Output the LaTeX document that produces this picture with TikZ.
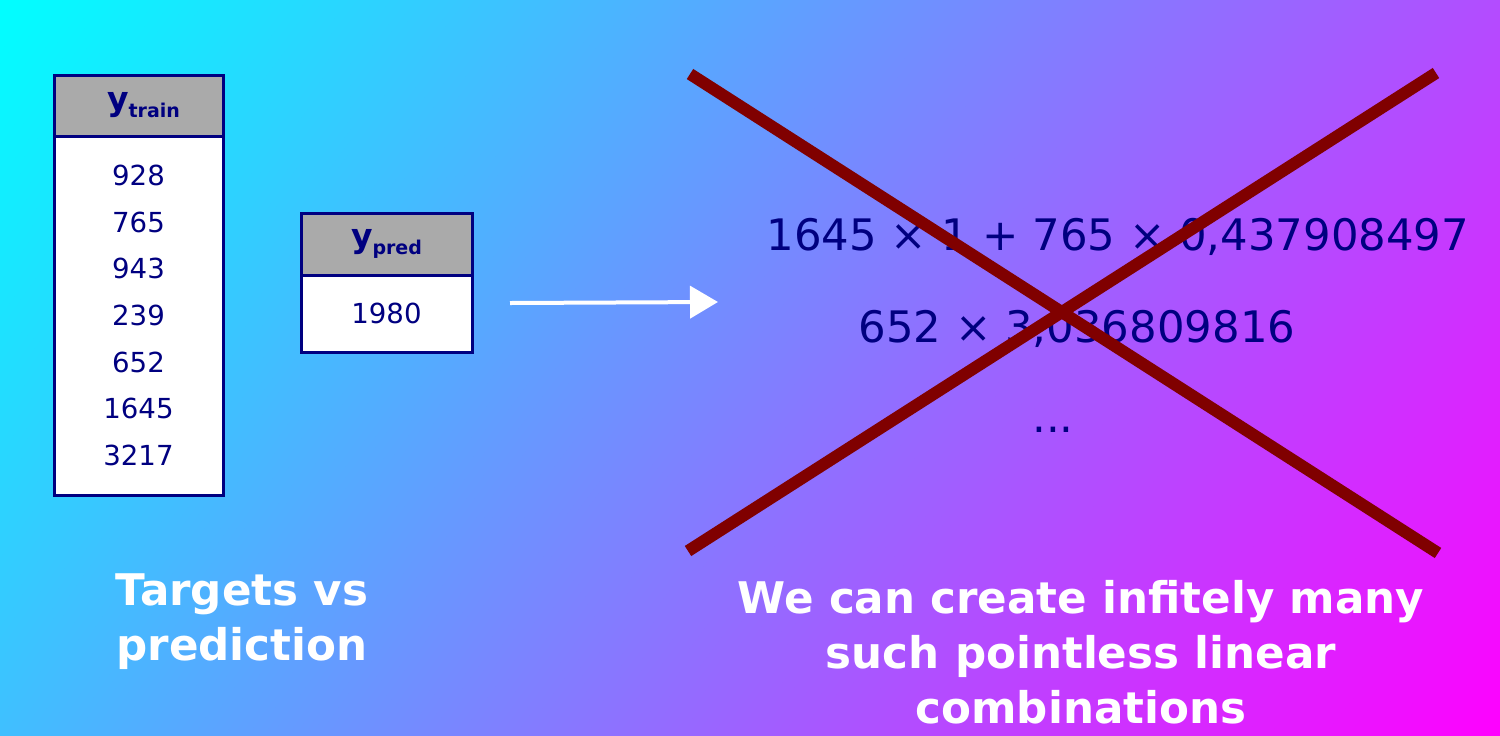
\documentclass[tikz,border=0pt]{standalone}
\usepackage{fontspec}
\setmainfont{DejaVu Sans}
\usepackage{tikz}
\usetikzlibrary{arrows.meta,positioning,shadings}
\definecolor{navy}{RGB}{0,0,128}
\definecolor{headgrey}{RGB}{170,170,170}
\definecolor{crossred}{RGB}{128,0,0}
\definecolor{bgcyan}{RGB}{0,255,255}
\definecolor{bgmagenta}{RGB}{255,0,255}
\definecolor{bgupright}{RGB}{179,76,255}
\definecolor{bglowleft}{RGB}{64,191,255}
\tikzset{
  headbox/.style={draw=navy, line width=1.5pt, fill=headgrey, text=navy,
    inner sep=0pt, font=\fontsize{16.5}{16.5}\selectfont\bfseries},
  valbox/.style={draw=navy, line width=1.5pt, fill=white, text=navy,
    inner sep=0pt, align=center, font=\fontsize{13.8}{23.35}\selectfont},
  formula/.style={text=navy, anchor=base, inner sep=0pt, font=\fontsize{21.7}{26}\selectfont},
  caption/.style={text=white, align=center, font=\fontsize{21.8}{27.5}\selectfont\bfseries},
  flow/.style={-{Triangle[length=14pt, width=16pt]}, line width=2pt, white},
  crossline/.style={line width=6pt, crossred}
}

\begin{document}
\begin{tikzpicture}[x=0.5pt, y=-0.5pt]
% background
\shade[upper left=bgcyan, upper right=bgupright, lower left=bglowleft, lower right=bgmagenta]
  (0,0) rectangle (1500,735);
\useasboundingbox (0,0) rectangle (1500,735);

% targets table
\node[headbox, minimum width=84.5pt, minimum height=30.5pt] (trainhead) at (138.5,105.5)
  {\hspace*{5pt}y\raisebox{-3.5pt}{\fontsize{9.5}{9.5}\selectfont train}};
\node[valbox, minimum width=84.5pt, minimum height=179.5pt, below=-1.5pt of trainhead] (trainvals)
  {928\\765\\943\\239\\652\\1645\\3217};

% prediction table
\node[headbox, minimum width=85.5pt, minimum height=31pt] (predhead) at (386.5,244)
  {y\raisebox{-3.5pt}{\fontsize{9.5}{9.5}\selectfont pred}};
\node[valbox, minimum width=85.5pt, minimum height=38.5pt, below=-1.5pt of predhead] (predval) {1980};

\coordinate (arrowstart) at (510,303);
\coordinate (arrowend) at (718,302);
\draw[flow] (arrowstart) -- (arrowend);

% combinations
\node[formula] (combo1) at (1118,250) {1645 × 1 + 765 × 0,437908497};
\node[formula] (combo2) at (1077,342) {652 × 3,036809816};
\node[formula] (combodots) at (1053,432) {...};

% cross
\coordinate (crossTL) at (690,74);
\coordinate (crossBR) at (1438,553);
\coordinate (crossBL) at (688,551);
\coordinate (crossTR) at (1436,73);
\draw[crossline] (crossTL) -- (crossBR);
\draw[crossline] (crossBL) -- (crossTR);

% captions
\node[caption] (leftcap) at (242,622) {Targets vs\\prediction};
\node[caption] (rightcap) at (1081,652) {We can create infitely many\\such pointless linear\\combinations};
\end{tikzpicture}
\end{document}
